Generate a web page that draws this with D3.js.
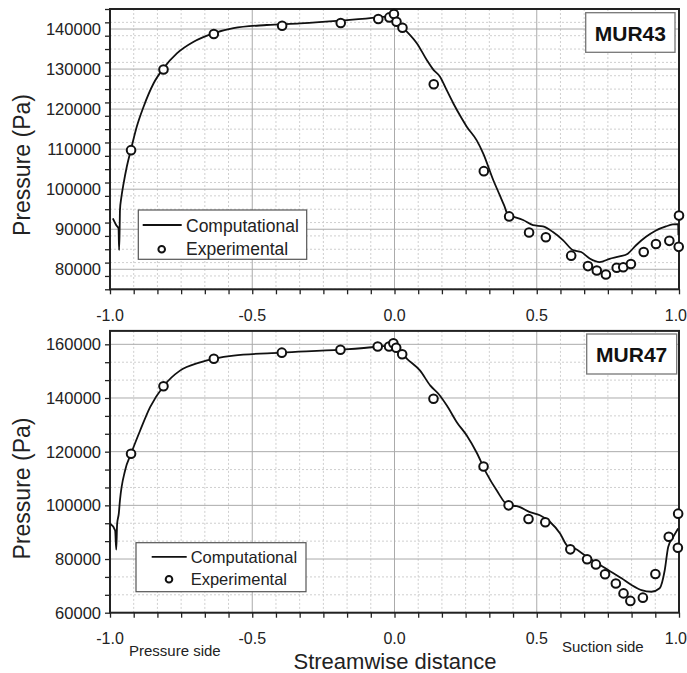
<!DOCTYPE html>
<html>
<head>
<meta charset="utf-8">
<script src="https://cdn.jsdelivr.net/npm/d3@7"></script>
<style>
  html, body { margin: 0; padding: 0; background: #fff; }
  svg { display: block; font-family: "Liberation Sans", Arial, sans-serif; }
</style>
</head>
<body>
<svg id="chart" width="687" height="673"></svg>
<script>
// Streamwise distance ticks (shared by both panels)
const xTicks = [-1.0, -0.5, 0.0, 0.5, 1.0];
const xTickLabels = ["-1.0", "-0.5", "0.0", "0.5", "1.0"];

// MUR43 — pressure ticks
const yTicks43 = [80000, 90000, 100000, 110000, 120000, 130000, 140000];
// MUR43 — experimental measurements
const expS43 = [-0.926, -0.812, -0.635, -0.395, -0.189, -0.057, -0.018, -0.002, 0.007, 0.028,
                0.138, 0.314, 0.403, 0.473, 0.532, 0.621, 0.680, 0.711, 0.743, 0.781,
                0.804, 0.831, 0.876, 0.919, 0.966, 0.999, 1.000];
const expP43 = [109750, 129900, 138750, 140800, 141500, 142500, 142900, 143750, 141800, 140300,
                126200, 104500, 93200, 89200, 88000, 83400, 80800, 79700, 78700, 80400,
                80500, 81300, 84300, 86300, 87100, 85600, 93400];
// MUR43 — computational solution
const cfdS43 = [-0.990, -0.978, -0.970, -0.968, -0.966, -0.965, -0.960, -0.952, -0.941, -0.926,
                -0.906, -0.882, -0.847, -0.812, -0.765, -0.706, -0.637, -0.566, -0.449, -0.332,
                -0.190, -0.060, -0.020, -0.003, 0.031, 0.044, 0.079, 0.114, 0.137, 0.160,
                0.183, 0.207, 0.236, 0.254, 0.289, 0.312, 0.347, 0.370, 0.385, 0.400,
                0.418, 0.452, 0.487, 0.522, 0.557, 0.592, 0.627, 0.656, 0.686, 0.721,
                0.756, 0.791, 0.820, 0.849, 0.884, 0.919, 0.954, 0.978, 0.997, 0.998];
const cfdP43 = [92700, 91000, 90200, 84800, 90500, 94700, 98000, 101500, 105600, 110000,
                115600, 120600, 126400, 130200, 133900, 136800, 138900, 140200, 141000, 141400,
                142100, 142900, 143300, 143800, 140200, 139300, 136400, 132200, 129800, 128100,
                124800, 121400, 117700, 115600, 112200, 108900, 102300, 98500, 96000, 93500,
                93100, 92300, 91000, 90700, 89300, 87300, 84800, 84300, 82700, 81800,
                82600, 83200, 83900, 86000, 88100, 89700, 90700, 91200, 91300, 88500];

// MUR47 — pressure ticks
const yTicks47 = [60000, 80000, 100000, 120000, 140000, 160000];
// MUR47 — experimental measurements
const expS47 = [-0.926, -0.812, -0.635, -0.396, -0.190, -0.059, -0.019, -0.004, 0.006, 0.027,
                0.137, 0.313, 0.401, 0.471, 0.530, 0.618, 0.677, 0.708, 0.740, 0.778,
                0.805, 0.829, 0.873, 0.917, 0.964, 0.996, 0.997];
const expP47 = [119250, 144400, 154600, 156900, 158000, 159200, 159200, 160400, 158700, 156300,
                139700, 114500, 100000, 94900, 93700, 83600, 79900, 78000, 74300, 70900,
                67200, 64400, 65600, 74400, 88300, 84200, 96900];
// MUR47 — computational solution
const cfdS47 = [-1.000, -0.982, -0.978, -0.975, -0.969, -0.965, -0.947, -0.926, -0.894, -0.859,
                -0.812, -0.754, -0.683, -0.566, -0.396, -0.190, -0.060, -0.020, -0.004, 0.027,
                0.044, 0.090, 0.126, 0.155, 0.184, 0.219, 0.254, 0.289, 0.324, 0.359,
                0.400, 0.430, 0.476, 0.511, 0.547, 0.582, 0.607, 0.634, 0.669, 0.704,
                0.751, 0.798, 0.833, 0.868, 0.903, 0.932, 0.950, 0.962, 0.980, 0.997];
const cfdP47 = [93200, 90700, 83500, 93000, 97000, 101900, 113000, 119250, 127900, 136600,
                144400, 150200, 153300, 155800, 156900, 158000, 159100, 159600, 160300, 156400,
                154600, 150200, 144600, 141500, 137200, 131000, 126000, 119600, 111800, 105600,
                100000, 99700, 97500, 96300, 93800, 89500, 85000, 83900, 81400, 79000,
                75900, 72800, 70300, 68400, 67800, 69100, 75900, 84500, 88300, 91400];

const svg = d3.select("#chart");
svg.append("rect").attr("width", 687).attr("height", 673).attr("fill", "#fff");

const x = d3.scaleLinear().domain([-1, 1]).range([110, 679]);

const panels = [
  {
    name: "MUR43",
    y: d3.scaleLinear().domain([75000, 145000]).range([289.3, 9]),
    ticks: yTicks43, step: 10000,
    expS: expS43, expP: expP43, cfdS: cfdS43, cfdP: cfdP43,
    yTitle: 165,
    tag: { x0: 585.7, x1: 675, y0: 12.7, y1: 52.3, base: 40.7 },
    legend: { x0: 138.3, x1: 306.7, y0: 210, y1: 259.3, lx0: 142.7, lx1: 181.7, ly: 225,
              tx: 186, t1: 231.7, t2: 255, cx: 161.7, cy: 249.3, fs: 17.5 }
  },
  {
    name: "MUR47",
    y: d3.scaleLinear().domain([60000, 165000]).range([612.7, 330.9]),
    ticks: yTicks47, step: 20000,
    expS: expS47, expP: expP47, cfdS: cfdS47, cfdP: cfdP47,
    yTitle: 488.5,
    tag: { x0: 586.7, x1: 676.7, y0: 334, y1: 374, base: 362.3 },
    legend: { x0: 136, x1: 306, y0: 542.7, y1: 591.7, lx0: 151.7, lx1: 186.7, ly: 556.8,
              tx: 190.7, t1: 562.7, t2: 585, cx: 169, cy: 579.3, fs: 16.5 }
  }
];

// minor x positions: five minor ticks between each major step of 0.5
const xMinor = d3.range(0, 25).map(i => -1 + i / 12);

panels.forEach(p => {
  const g = svg.append("g");
  const [yBot, yTop] = p.y.range();
  const [xL, xR] = x.range();
  const [d0, d1] = p.y.domain();

  // minor y positions: two minor ticks between majors
  const yMinor = [];
  for (let v = d0; v <= d1 + 1; v += p.step / 3) yMinor.push(Math.round(v));
  const isMajorY = v => p.ticks.some(t => Math.abs(t - v) < 2);
  const isMajorX = s => xTicks.some(t => Math.abs(t - s) < 1e-6);

  // dotted minor grid
  g.selectAll(".gmx").data(xMinor.filter(s => !isMajorX(s))).join("line")
    .attr("x1", d => x(d)).attr("x2", d => x(d)).attr("y1", yTop).attr("y2", yBot)
    .attr("stroke", "#cfcfcf").attr("stroke-width", 1).attr("stroke-dasharray", "2,2");
  g.selectAll(".gmy").data(yMinor.filter(v => !isMajorY(v))).join("line")
    .attr("x1", xL).attr("x2", xR).attr("y1", d => p.y(d)).attr("y2", d => p.y(d))
    .attr("stroke", "#cfcfcf").attr("stroke-width", 1).attr("stroke-dasharray", "2,2");

  // solid major grid
  g.selectAll(".gMx").data(xTicks.slice(1, -1)).join("line")
    .attr("x1", d => x(d)).attr("x2", d => x(d)).attr("y1", yTop).attr("y2", yBot)
    .attr("stroke", "#ababab").attr("stroke-width", 1);
  g.selectAll(".gMy").data(p.ticks).join("line")
    .attr("x1", xL).attr("x2", xR).attr("y1", d => p.y(d)).attr("y2", d => p.y(d))
    .attr("stroke", "#ababab").attr("stroke-width", 1);

  // axes with outward ticks (labels drawn separately)
  const xAxis = d3.axisBottom(x).tickValues(xMinor).tickSize(5).tickFormat("");
  g.append("g").attr("transform", `translate(0,${yBot})`).call(xAxis)
    .call(a => a.select(".domain").remove())
    .selectAll("line").attr("stroke", "#222").attr("stroke-width", 1.3);
  const yAxis = d3.axisLeft(p.y).tickValues(yMinor).tickSize(5).tickFormat("");
  g.append("g").attr("transform", `translate(${xL},0)`).call(yAxis)
    .call(a => a.select(".domain").remove())
    .selectAll("line").attr("stroke", "#222").attr("stroke-width", 1.3);

  // tick labels; the last one is right-aligned to stay inside the page
  g.selectAll(".xl").data(xTicks).join("text")
    .attr("x", (d, i) => i === xTicks.length - 1 ? 687 : x(d)).attr("y", yBot + 31.5)
    .attr("text-anchor", (d, i) => i === xTicks.length - 1 ? "end" : "middle")
    .attr("font-size", 16).attr("fill", "#222")
    .text((d, i) => xTickLabels[i]);
  g.selectAll(".yl").data(p.ticks).join("text")
    .attr("x", 101).attr("y", d => p.y(d)).attr("dy", "0.36em")
    .attr("text-anchor", "end").attr("font-size", 16.5).attr("fill", "#222")
    .text(d => d);

  // frame
  g.append("rect").attr("x", xL).attr("y", yTop).attr("width", xR - xL).attr("height", yBot - yTop)
    .attr("fill", "none").attr("stroke", "#222").attr("stroke-width", 2);

  // axis title
  g.append("text").attr("transform", `translate(30,${p.yTitle}) rotate(-90)`)
    .attr("text-anchor", "middle").attr("font-size", 23).attr("fill", "#222")
    .text("Pressure (Pa)");

  // computational line
  const cfd = p.cfdS.map((s, i) => [s, p.cfdP[i]]);
  g.append("path").datum(cfd)
    .attr("d", d3.line().x(d => x(d[0])).y(d => p.y(d[1])).curve(d3.curveMonotoneX))
    .attr("fill", "none").attr("stroke", "#111").attr("stroke-width", 1.8);

  // experimental points
  const exp = p.expS.map((s, i) => [s, p.expP[i]]);
  g.selectAll(".pt").data(exp).join("circle")
    .attr("cx", d => x(d[0])).attr("cy", d => p.y(d[1])).attr("r", 4.3)
    .attr("fill", "#fff").attr("stroke", "#111").attr("stroke-width", 2);

  // case tag
  const t = p.tag;
  g.append("rect").attr("x", t.x0).attr("y", t.y0).attr("width", t.x1 - t.x0).attr("height", t.y1 - t.y0)
    .attr("fill", "#fff").attr("stroke", "#777").attr("stroke-width", 1.3);
  g.append("text").attr("x", (t.x0 + t.x1) / 2).attr("y", t.base)
    .attr("text-anchor", "middle").attr("font-size", 21).attr("font-weight", "bold").attr("fill", "#111")
    .text(p.name);

  // legend
  const L = p.legend;
  g.append("rect").attr("x", L.x0).attr("y", L.y0).attr("width", L.x1 - L.x0).attr("height", L.y1 - L.y0)
    .attr("fill", "#fff").attr("stroke", "#555").attr("stroke-width", 1.2);
  g.append("line").attr("x1", L.lx0).attr("x2", L.lx1).attr("y1", L.ly).attr("y2", L.ly)
    .attr("stroke", "#111").attr("stroke-width", 1.8);
  g.append("circle").attr("cx", L.cx).attr("cy", L.cy).attr("r", 3.3)
    .attr("fill", "#fff").attr("stroke", "#111").attr("stroke-width", 2);
  g.append("text").attr("x", L.tx).attr("y", L.t1).attr("font-size", L.fs).attr("fill", "#222").text("Computational");
  g.append("text").attr("x", L.tx).attr("y", L.t2).attr("font-size", L.fs).attr("fill", "#222").text("Experimental");
});

// shared annotations under the lower panel
svg.append("text").attr("x", 395).attr("y", 669).attr("text-anchor", "middle")
  .attr("font-size", 22).attr("fill", "#222").text("Streamwise distance");
svg.append("text").attr("x", 129).attr("y", 656).attr("font-size", 15).attr("fill", "#222").text("Pressure side");
svg.append("text").attr("x", 562).attr("y", 652).attr("font-size", 15).attr("fill", "#222").text("Suction side");
</script>
</body>
</html>
